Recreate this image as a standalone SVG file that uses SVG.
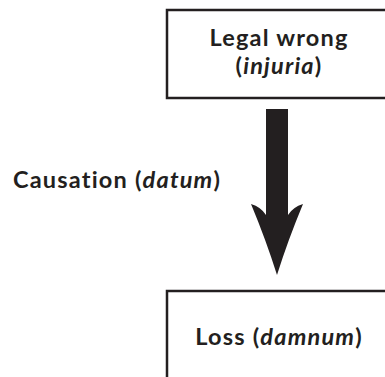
<svg xmlns="http://www.w3.org/2000/svg" width="385" height="377" viewBox="0 0 385 377">
<style>
.box{fill:#fff;stroke:#231f20;stroke-width:2.5}
.t{font-family:Lato,"Open Sans","Liberation Sans",sans-serif;font-weight:bold;font-size:23.5px;letter-spacing:1.2px;font-variant-ligatures:none;fill:#231f20;text-anchor:middle}
.arrow{fill:#231f20}
</style>
<rect width="385" height="377" fill="#fff"/>
<g id="connectors">
<path class="arrow" d="M266,109 H288 V215 Q293,207 303,204 Q288,240 277,275 Q266,240 251,204 Q261,207 266,215 Z"/>
<text class="t" x="117" y="188">Causation (<tspan font-style="italic">datum</tspan>)</text>
</g>
<g id="legal-wrong">
<rect class="box" x="167" y="10" width="222" height="88"/>
<text class="t" x="279" y="46">Legal wrong</text>
<text class="t" x="279" y="74">(<tspan font-style="italic">injuria</tspan>)</text>
</g>
<g id="loss">
<rect class="box" x="167" y="291" width="222" height="100"/>
<text class="t" x="279" y="345">Loss (<tspan font-style="italic">damnum</tspan>)</text>
</g>
</svg>
